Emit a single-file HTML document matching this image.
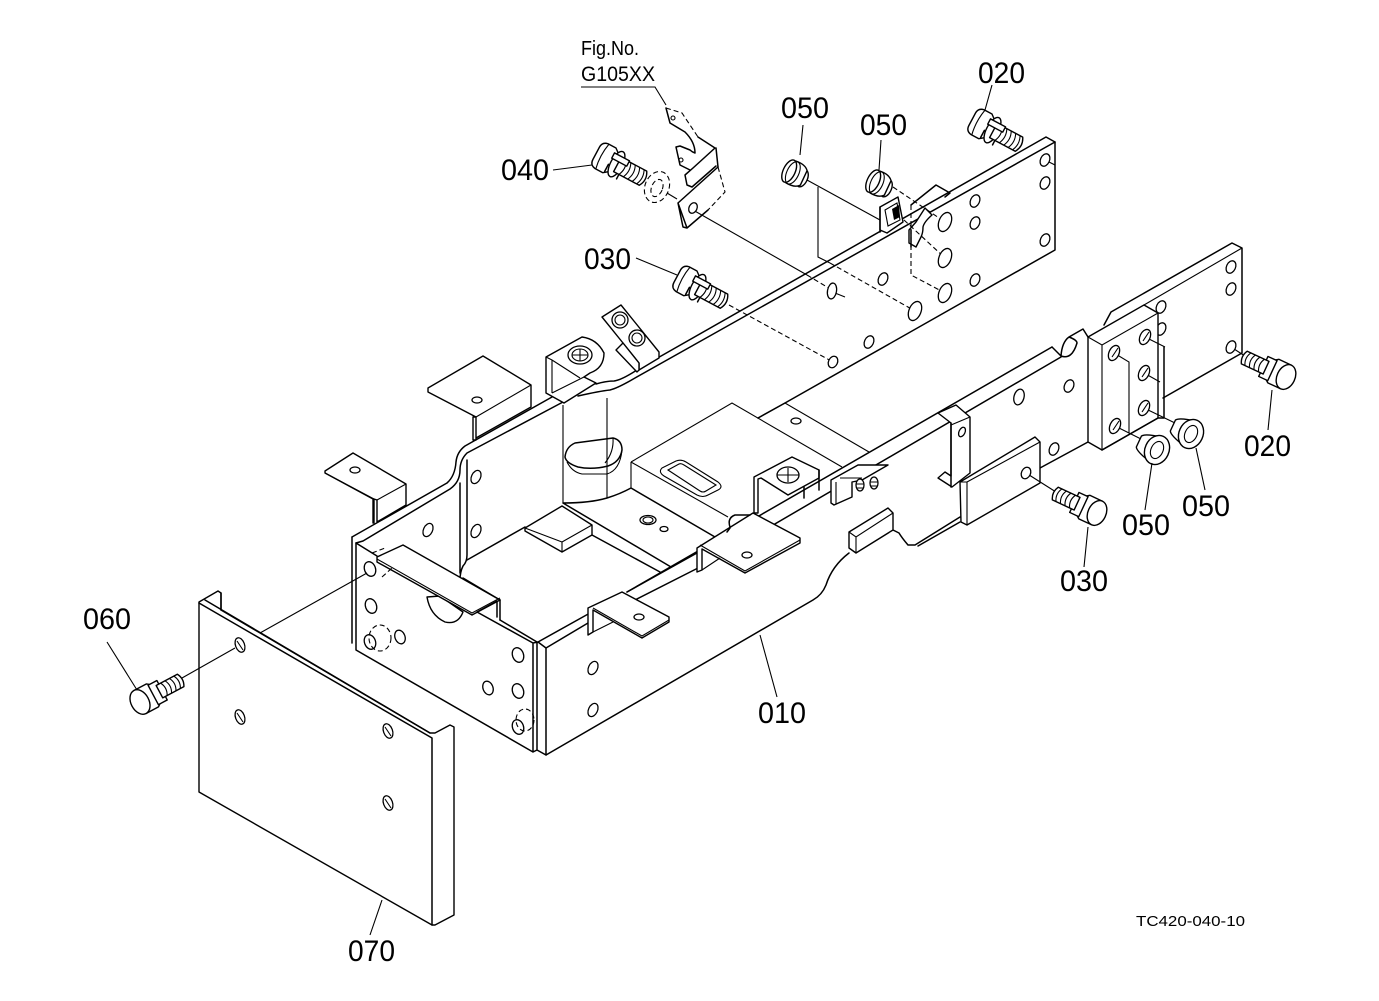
<!DOCTYPE html>
<html><head><meta charset="utf-8"><style>
html,body{margin:0;padding:0;background:#fff;width:1379px;height:1001px;overflow:hidden}
svg{display:block}
.l{fill:none;stroke:#000;stroke-width:1.5;stroke-linejoin:round;stroke-linecap:round}
.t{fill:none;stroke:#000;stroke-width:1.1}
.d{fill:none;stroke:#000;stroke-width:1.1;stroke-dasharray:5 3}
.w{fill:#fff;stroke:#000;stroke-width:1.4;stroke-linejoin:round}
.h{fill:#fff;stroke:#000;stroke-width:1.3}
text{font-family:"Liberation Sans",sans-serif;fill:#000}
.n{font-size:30px}
</style></head><body>
<svg width="1379" height="1001" viewBox="0 0 1379 1001" xmlns="http://www.w3.org/2000/svg">
<defs>
<g id="ba">
<path class="w" d="M-10,-7 Q-10,-13 -4,-14 L5,-14 L10,-10 L10,10 L5,14 L-4,14 Q-10,13 -10,7Z"/>
<path class="t" d="M-3,-14 Q-6,0 -3,14"/>
<ellipse class="w" cx="13" cy="0" rx="6" ry="14"/>
<path class="w" d="M14,-8 H43 Q48,0 43,8 H14Z"/>
<path class="t" d="M20,-8 Q24,0 20,8M25,-8 Q29,0 25,8M30,-8 Q34,0 30,8M35,-8 Q39,0 35,8M40,-8 Q44,0 40,8"/>
<path class="w" d="M6,-9 H23 V-3 H6Z"/>
<path class="l" d="M6,4 V12 M20,8 V13"/>
</g>
<g id="bb">
<path class="w" d="M0,-13 H14 L18,-10 V10 L14,13 H0Z"/>
<path class="w" d="M15,-11 H25 V11 H15Z"/>
<path class="w" d="M22,-7 H46 Q50,0 46,7 H22Z"/>
<path class="t" d="M27,-7 Q31,0 27,7M32,-7 Q36,0 32,7M37,-7 Q41,0 37,7M42,-7 Q46,0 42,7"/>
<ellipse class="w" cx="0" cy="0" rx="9" ry="13"/>
</g>
</defs>

<!-- upper rail -->
<path class="l" d="M352,537 L447,483 Q455,476 456,462 Q457,452 465,446 L552,397"/>
<path class="l" d="M356,543 L363,541 L450,489 Q460,482 460,470 Q460,460 467,453 L563,402"/>
<path class="l" d="M596,384 Q606,381 614,381 Q622,380 640,368 L1046,137 L1055,142 L1055,250 L785,403 L758,418"/>
<path class="l" d="M578,396 Q600,391 610,390 Q618,388 635,378 L1055,142"/>
<path class="t" d="M1049,162 L1055,165"/>
<!-- rear plate / corner -->
<path class="l" d="M352,537 V643 M356,543 V650 L533,752 M533,643 V752 L537,750 M537,643 V750 L546,755 V648 M356,543 L377,556 M477,612 L533,643 L538,642 L546,648 M500,620 L537,642"/>
<path class="l" d="M546,755 L813,600 Q822,595 826,585 Q832,566 849,553"/>
<path class="l" d="M538,642 L590,613 M546,648 L588,623 M627,592 L697,553 M635,600 L700,567"/>
<path class="l" d="M627,592 L1052,347 M720,556 L1061,357"/>
<!-- left inner verticals -->
<path class="l" d="M460,483 V573 M467,460 V555 Q467,562 463,566 Q460,572 460,580"/>
<path class="l" d="M467,560 L525,527 M463,578 L500,600"/>
<path class="t" d="M563,405 V503 M607,398 V498"/>
<!-- floor -->
<path class="l" d="M563,503 Q590,503 607,498 Q620,494 631,488 L715,537 M563,503 L671,567"/>
<path class="t" d="M631,462 L732,403 L842,467 M631,462 V488 M631,462 L728,517"/>
<path class="t" d="M758,418 L785,403 L869,452"/>
<!-- oval cutout -->
<path class="l" d="M565,457 Q566,447 575,443 Q590,441 613,438 Q622,440 622,450 Q620,462 608,466 Q592,470 578,467 Q566,463 565,457Z"/>
<path class="t" d="M567,462 Q572,472 582,474 H607 Q620,470 622,450 M613,438 Q614,452 605,463"/>
<path class="t" d="M662,468 L676,461 Q681,459 686,462 L718,482 Q724,487 718,490 L708,495 Q703,498 697,495 L664,476 Q658,472 662,468Z"/>
<path class="t" d="M668,470 L679,464 Q681,463 684,465 L716,485 L706,491 Q703,493 700,491 Z"/>
<!-- block -->
<path class="w" d="M525,528 L562,506 L592,525 V535 L562,552 L525,531Z"/>
<path class="t" d="M525,528 L562,542 M562,542 L592,525 M562,542 V552"/>
<path class="l" d="M592,535 L660,572"/>
<!-- lower rail right end -->
<path class="l" d="M1052,347 L1061,356 Q1072,360 1077,343 Q1077,340 1069,337 Q1062,342 1061,356 M1069,337 L1083,329 L1088,337"/>
<path class="l" d="M1104,325 L1111,312 L1232,243 L1242,248 V353 L1163,398"/>
<path class="t" d="M1144,305 L1242,248"/>
<path class="l" d="M1088,442 L1040,468"/>
<ellipse class="h" cx="1161" cy="307" rx="4.5" ry="6.5" transform="rotate(25 1161 307)"/>
<ellipse class="h" cx="1161" cy="329" rx="4.5" ry="6.5" transform="rotate(25 1161 329)"/>
<!-- spacer block -->
<path class="w" d="M1088,337 L1144,305 L1158,313 V418 L1102,450 L1088,442Z"/>
<path class="t" d="M1088,337 L1102,345 L1158,313 M1102,345 V450"/>
<path class="l" d="M1164,347 V418 L1158,418 M1158,418 L1102,450"/>
<!-- flat bar -->
<path class="w" d="M960,482 L1035,437 L1040,442 V483 L967,525 L961,522Z"/>
<path class="t" d="M967,482 L1040,442 M967,482 V525 M960,482 L967,482"/>
<path class="l" d="M960,517 L915,545 L908,545 Q902,538 899,533 L893,530 M960,522 L918,546"/>
<!-- plastic block -->
<path class="w" d="M849,532 L888,508 L893,513 V530 L856,553 L849,548Z"/>
<path class="t" d="M849,532 L856,537 L893,513 M856,537 V553"/>
<!-- tall bracket -->
<path class="w" d="M938,413 L956,405 L970,417 V473 L952,487 L938,478 L945,472 L951,476 V423Z"/>
<path class="t" d="M951,425 L970,417"/>
<path class="l" d="M951,423 V487"/>
<!-- square bracket upper -->
<path class="l" d="M911,205 L936,185 L950,193 L945,197"/>
<path class="w" d="M880,207 L898,197 L903,222 L887,233 L880,230Z"/>
<path class="t" d="M885,210 L897,203 L900,220 L888,226Z"/>
<path d="M892,209 L899,205 L900,217 L894,220Z" fill="#000"/>
<path class="l" d="M880,207 V232"/>
<path class="w" d="M925,208 L932,215 Q924,222 923,227 Q923,233 921,237 L916,247 L909,243 V230 L916,222Z"/>
<path class="l" d="M911,230 V247"/>

<!-- explode lines -->
<path class="t" d="M693,210 L807,275 M807,180 L880,220 M818,187 V257 L830,263 M835,293 L845,297 M667,193 L677,199"/>
<path class="d" d="M807,275 L832,290 M830,263 L915,311 M893,187 L945,222 M904,220 L945,258 M911,205 V275 L945,293 M729,305 L833,362"/>
<path class="t" d="M1114,353 L1129,362 V433 M1145,337 L1165,347 M1144,373 L1160,382 M1144,408 L1175,423 M1115,426 L1143,440 M1231,347 L1248,358 M1026,473 L1056,492"/>

<!-- holes upper rail -->
<ellipse class="h" cx="1045" cy="160" rx="4.5" ry="6.5" transform="rotate(25 1045 160)"/>
<ellipse class="h" cx="1045" cy="183" rx="4.5" ry="6.5" transform="rotate(25 1045 183)"/>
<ellipse class="h" cx="1045" cy="240" rx="4.5" ry="6.5" transform="rotate(25 1045 240)"/>
<ellipse class="h" cx="975" cy="201" rx="4.5" ry="6.5" transform="rotate(25 975 201)"/>
<ellipse class="h" cx="975" cy="223" rx="4.5" ry="6.5" transform="rotate(25 975 223)"/>
<ellipse class="h" cx="975" cy="280" rx="4.5" ry="6.5" transform="rotate(25 975 280)"/>
<ellipse class="h" cx="945" cy="222" rx="6" ry="10" transform="rotate(22 945 222)"/>
<ellipse class="h" cx="945" cy="258" rx="6" ry="10" transform="rotate(22 945 258)"/>
<ellipse class="h" cx="945" cy="293" rx="6" ry="10" transform="rotate(22 945 293)"/>
<ellipse class="h" cx="915" cy="311" rx="6" ry="10" transform="rotate(22 915 311)"/>
<ellipse class="h" cx="883" cy="279" rx="4.5" ry="6.5" transform="rotate(25 883 279)"/>
<ellipse class="h" cx="832" cy="291" rx="4.5" ry="8" transform="rotate(10 832 291)"/>
<ellipse class="h" cx="869" cy="342" rx="4.5" ry="6.5" transform="rotate(25 869 342)"/>
<ellipse class="h" cx="833" cy="362" rx="4.5" ry="6" transform="rotate(25 833 362)"/>
<!-- holes rear plate -->
<ellipse class="h" cx="370" cy="569" rx="5.5" ry="7.5" transform="rotate(-20 370 569)"/>
<ellipse class="h" cx="371" cy="606" rx="5.5" ry="7.5" transform="rotate(-20 371 606)"/>
<ellipse class="h" cx="370" cy="642" rx="5.5" ry="7.5" transform="rotate(-20 370 642)"/>
<ellipse class="h" cx="400" cy="637" rx="5" ry="7" transform="rotate(-20 400 637)"/>
<ellipse class="h" cx="518" cy="655" rx="5.5" ry="7.5" transform="rotate(-20 518 655)"/>
<ellipse class="h" cx="488" cy="688" rx="5" ry="7" transform="rotate(-20 488 688)"/>
<ellipse class="h" cx="518" cy="691" rx="5.5" ry="7.5" transform="rotate(-20 518 691)"/>
<ellipse class="h" cx="518" cy="727" rx="5.5" ry="7.5" transform="rotate(-20 518 727)"/>
<ellipse class="d" cx="380" cy="638" rx="11" ry="13"/>
<ellipse class="d" cx="525" cy="720" rx="9" ry="11"/>
<!-- right side holes -->
<ellipse class="h" cx="593" cy="668" rx="4.5" ry="7" transform="rotate(25 593 668)"/>
<ellipse class="h" cx="593" cy="710" rx="4.5" ry="7" transform="rotate(25 593 710)"/>
<ellipse class="h" cx="428" cy="530" rx="4.5" ry="7" transform="rotate(25 428 530)"/>
<ellipse class="h" cx="476" cy="477" rx="4.5" ry="7" transform="rotate(25 476 477)"/>
<ellipse class="h" cx="476" cy="531" rx="4.5" ry="7" transform="rotate(25 476 531)"/>
<!-- floor holes -->
<ellipse class="h" cx="648" cy="520" rx="8" ry="4.5"/><ellipse class="t" cx="648" cy="520" rx="5" ry="3"/>
<ellipse class="h" cx="664" cy="529" rx="4" ry="2.5"/>
<ellipse class="h" cx="796" cy="421" rx="5" ry="3"/>
<!-- lower rail holes -->
<ellipse class="h" cx="1069" cy="386" rx="4.5" ry="6.5" transform="rotate(25 1069 386)"/>
<ellipse class="h" cx="1019" cy="397" rx="5" ry="8" transform="rotate(15 1019 397)"/>
<ellipse class="h" cx="1054" cy="449" rx="4.5" ry="6.5" transform="rotate(25 1054 449)"/>
<ellipse class="h" cx="1026" cy="473" rx="4.5" ry="6" transform="rotate(25 1026 473)"/>
<ellipse class="h" cx="962" cy="432" rx="3" ry="5" transform="rotate(25 962 432)"/>
<ellipse class="h" cx="1231" cy="267" rx="4.5" ry="6.5" transform="rotate(25 1231 267)"/>
<ellipse class="h" cx="1231" cy="289" rx="4.5" ry="6.5" transform="rotate(25 1231 289)"/>
<ellipse class="h" cx="1231" cy="347" rx="4.5" ry="6.5" transform="rotate(25 1231 347)"/>
<ellipse class="h" cx="1145" cy="337" rx="5" ry="8" transform="rotate(25 1145 337)"/><path class="t" d="M1143,341 L1149,332"/>
<ellipse class="h" cx="1114" cy="353" rx="5" ry="8" transform="rotate(25 1114 353)"/><path class="t" d="M1112,357 L1118,348"/>
<ellipse class="h" cx="1144" cy="373" rx="5" ry="8" transform="rotate(25 1144 373)"/><path class="t" d="M1142,377 L1148,368"/>
<ellipse class="h" cx="1144" cy="408" rx="5" ry="8" transform="rotate(25 1144 408)"/><path class="t" d="M1142,412 L1148,403"/>
<ellipse class="h" cx="1115" cy="426" rx="5" ry="8" transform="rotate(25 1115 426)"/><path class="t" d="M1113,430 L1119,421"/>

<!-- tabs -->
<path class="w" d="M325,471 L353,453 L406,484 V505 L377,522 V500 L374,499 V523 L373,523 V499 L325,473Z"/>
<path class="t" d="M325,473 L374,499 M377,500 L406,484"/>
<ellipse class="h" cx="355" cy="470" rx="5" ry="3"/>
<path class="w" d="M428,388 L483,356 L531,385 V407 L476,438 V417 L473,417 V440 L476,440 V417 L428,392Z"/>
<path class="t" d="M476,417 L531,385"/>
<ellipse class="h" cx="477" cy="400" rx="5" ry="3"/>

<!-- ring bracket top -->
<path class="w" d="M546,357 L582,337 Q597,339 604,353 Q604,368 590,373 L584,377 L596,383 L564,403 L546,393Z"/>
<ellipse class="h" cx="580" cy="355" rx="12" ry="9"/>
<ellipse class="t" cx="580" cy="355" rx="8" ry="6"/><path class="t" d="M580,349 V361 M572,355 H588"/>
<path class="t" d="M552,360 V393 M552,360 L580,378 M552,393 L584,377 M546,357 L552,360"/>
<!-- two-hole bracket -->
<path class="w" d="M602,317 L621,305 L659,352 V358 L639,370 V363 L623,343Z"/>
<path class="w" d="M623,343 L616,350 L637,372 L639,370 V363Z"/>
<circle class="h" cx="620" cy="320" r="8"/><circle class="t" cx="620" cy="320" r="5"/>
<circle class="h" cx="637" cy="338" r="8"/><circle class="t" cx="637" cy="338" r="5"/>

<!-- ring bracket mid -->
<path class="w" d="M754,477 L792,457 L819,470 V478 L788,495 L761,478 L758,479 V513 L754,513Z"/>
<ellipse class="h" cx="788" cy="475" rx="11" ry="8"/><path class="t" d="M788,468 V482 M777,475 H799"/>
<path class="l" d="M804,487 V498 M819,470 V490"/>
<!-- small clamp -->
<path class="w" d="M831,480 L858,465 L888,465 L862,480 L852,482 V497 L834,505 L831,503Z"/>
<path class="t" d="M836,482 V504 M840,478 L862,478"/>
<ellipse class="h" cx="860" cy="485" rx="4" ry="6"/><ellipse class="h" cx="874" cy="483" rx="4" ry="6"/>
<path class="t" d="M856,484 H864 M856,488 H864 M870,482 H878 M870,486 H878"/>

<!-- big tab right -->
<path class="w" d="M697,548 L753,513 L800,538 V543 L745,573 L702,549 V570 L697,572Z"/>
<path class="t" d="M700,545 L745,571 L800,540 M702,570 L720,558"/>
<ellipse class="h" cx="747" cy="555" rx="5" ry="3"/>
<path class="l" d="M730,527 Q727,518 735,515 L750,515 M730,528 L727,532"/>
<!-- tab low -->
<path class="w" d="M588,608 L622,592 L669,617 V622 L642,638 L593,610 V632 L588,635Z"/>
<path class="t" d="M593,608 L642,636 L669,620 M593,632 L613,622"/>
<ellipse class="h" cx="639" cy="617" rx="5" ry="3"/>
<!-- left long bracket -->
<path class="w" d="M427,597 Q430,615 445,622 Q458,625 463,612 L440,596Z"/>
<path class="w" d="M377,557 L403,545 L500,600 L472,615 L377,562Z"/>
<path class="t" d="M377,559 L472,613 L500,598"/>
<path class="l" d="M500,600 V620 M497,602 V617 M477,612 L497,601"/>
<path class="d" d="M372,553 L385,548 M382,577 L392,568"/>

<!-- Fig bracket -->
<path class="d" d="M666,108 L682,113 L698,137"/>
<path class="l" d="M666,108 L670,123 L685,132 Q695,142 695,153 Q692,152 690,150 L680,146 L676,147 L680,165 L690,170"/>
<circle class="t" cx="673" cy="118" r="2"/><circle class="t" cx="681" cy="160" r="2"/>
<path class="l" d="M698,137 L715,148 L693,168 L685,175 L687,185 L692,187 L716,166 M716,148 L718,167"/>
<path class="l" d="M718,167 L678,203 L683,227 L687,228 L708,210 M678,203 L687,228"/>
<path class="d" d="M718,167 L725,192 L708,210"/>
<ellipse class="h" cx="693" cy="208" rx="4" ry="5.5" transform="rotate(25 693 208)"/>
<!-- washer -->
<ellipse cx="657" cy="187" rx="12" ry="16" transform="rotate(22 657 187)" fill="#fff" stroke="#000" stroke-width="1.1" stroke-dasharray="5 3"/>
<ellipse class="d" cx="657" cy="188" rx="5.5" ry="9" transform="rotate(22 657 188)"/>

<!-- bolts -->
<use href="#ba" transform="translate(605,158) rotate(28)"/>
<use href="#ba" transform="translate(981,124) rotate(28)"/>
<use href="#ba" transform="translate(686,281) rotate(28)"/>
<use href="#bb" transform="translate(1286,377) rotate(205)"/>
<use href="#bb" transform="translate(1097,513) rotate(205)"/>

<!-- 050 bushes upper -->
<g transform="translate(791,172) rotate(25)"><ellipse class="w" cx="13" cy="1" rx="5" ry="9"/><path class="w" d="M0,-12 Q10,-13 14,-8 V8 Q10,13 0,12Z"/><ellipse class="w" cx="-2" cy="0" rx="6" ry="12"/><ellipse class="t" cx="2" cy="0" rx="6" ry="12"/></g>
<g transform="translate(875,182) rotate(25)"><ellipse class="w" cx="13" cy="1" rx="5" ry="9"/><path class="w" d="M0,-12 Q10,-13 14,-8 V8 Q10,13 0,12Z"/><ellipse class="w" cx="-2" cy="0" rx="6" ry="12"/><ellipse class="t" cx="2" cy="0" rx="6" ry="12"/></g>
<!-- 050 bushes lower -->
<g transform="translate(1157,450) rotate(205)"><path class="w" d="M0,-14 Q18,-10 20,-6 V6 Q18,10 0,14Z"/><ellipse class="w" cx="0" cy="0" rx="12" ry="15"/><ellipse class="t" cx="0" cy="0" rx="6" ry="9"/></g>
<g transform="translate(1191,434) rotate(205)"><path class="w" d="M0,-14 Q18,-10 20,-6 V6 Q18,10 0,14Z"/><ellipse class="w" cx="0" cy="0" rx="12" ry="15"/><ellipse class="t" cx="0" cy="0" rx="6" ry="9"/></g>

<!-- plate 070 -->
<path class="w" d="M199,602 L218,591 L221,593 V610 L430,733 L435,733 L450,725 L454,727 V915 L435,925 H432 L199,792Z"/>
<path class="l" d="M199,603 L432,738 V925 M205,600 L430,733 M221,593 V610"/>
<ellipse class="h" cx="240" cy="645" rx="4.5" ry="7.5" transform="rotate(-20 240 645)"/><path class="t" d="M237,641 L243,650"/>
<ellipse class="h" cx="240" cy="717" rx="4.5" ry="7.5" transform="rotate(-20 240 717)"/><path class="t" d="M237,713 L243,722"/>
<ellipse class="h" cx="388" cy="731" rx="4.5" ry="7.5" transform="rotate(-20 388 731)"/><path class="t" d="M385,727 L391,736"/>
<ellipse class="h" cx="388" cy="803" rx="4.5" ry="7.5" transform="rotate(-20 388 803)"/><path class="t" d="M385,799 L391,808"/>
<path class="t" d="M260,633 L367,573 M182,678 L235,648"/>
<use href="#bb" transform="translate(140,702) rotate(-28)"/>

<!-- leaders -->
<path class="t" d="M581,87 H655 L666,105 M992,85 L985,110 M803,125 L800,155 M881,140 L879,170 M553,170 L592,165 M636,258 L677,275 M107,642 L137,690 M760,635 L777,697 M382,900 L370,935 M1088,527 L1084,567 M1152,463 L1145,510 M1196,448 L1205,490 M1272,390 L1268,430"/>

<!-- labels -->
<text class="n" x="978" y="83" textLength="47" lengthAdjust="spacingAndGlyphs">020</text>
<text class="n" x="781" y="118" textLength="48" lengthAdjust="spacingAndGlyphs">050</text>
<text class="n" x="860" y="135" textLength="47" lengthAdjust="spacingAndGlyphs">050</text>
<text class="n" x="501" y="180" textLength="48" lengthAdjust="spacingAndGlyphs">040</text>
<text class="n" x="584" y="269" textLength="47" lengthAdjust="spacingAndGlyphs">030</text>
<text class="n" x="83" y="629" textLength="48" lengthAdjust="spacingAndGlyphs">060</text>
<text class="n" x="758" y="723" textLength="48" lengthAdjust="spacingAndGlyphs">010</text>
<text class="n" x="348" y="961" textLength="47" lengthAdjust="spacingAndGlyphs">070</text>
<text class="n" x="1060" y="591" textLength="48" lengthAdjust="spacingAndGlyphs">030</text>
<text class="n" x="1122" y="535" textLength="48" lengthAdjust="spacingAndGlyphs">050</text>
<text class="n" x="1182" y="516" textLength="48" lengthAdjust="spacingAndGlyphs">050</text>
<text class="n" x="1244" y="456" textLength="47" lengthAdjust="spacingAndGlyphs">020</text>
<text x="581" y="55" font-size="20" textLength="58" lengthAdjust="spacingAndGlyphs">Fig.No.</text>
<text x="581" y="81" font-size="21" textLength="74" lengthAdjust="spacingAndGlyphs">G105XX</text>
<text x="1136" y="926" font-size="15" textLength="109" lengthAdjust="spacingAndGlyphs">TC420-040-10</text>
</svg>
</body></html>
